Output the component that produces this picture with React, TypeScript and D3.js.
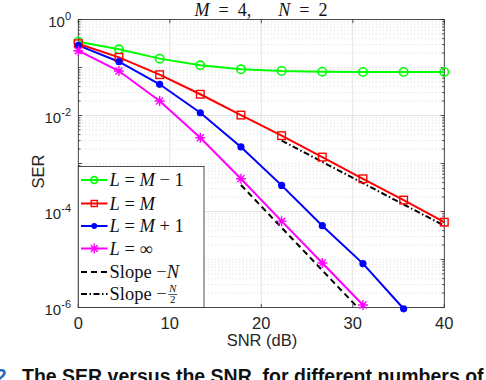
import React, { useEffect, useRef } from 'react';
import * as d3 from 'd3';

// SNR points (dB)
const snrDb = [0, 4.444, 8.889, 13.333, 17.778, 22.222, 26.667, 31.111, 35.556, 40];

// SER curves
const serLm1 = [0.345, 0.239, 0.153, 0.111, 0.0917, 0.0845, 0.0818, 0.0806, 0.0806, 0.0806];
const serLm = [0.313, 0.163, 0.0708, 0.0277, 0.0102, 0.0038, 0.00136, 0.00048, 0.000173, 0.00006];
const serLp1 = [0.29, 0.132, 0.0447, 0.0114, 0.00221, 0.00035, 5.06e-5, 8.2e-6, 9.4e-7];
const serLinf = [0.224, 0.0845, 0.02, 0.00345, 0.00048, 6.3e-5, 8.45e-6, 1.13e-6];

// reference slope lines
const slopeNx = [17.778, 30.54];
const slopeNy = [3.56e-4, 1e-6];
const slopeHalfX = [22.222, 40];
const slopeHalfY = [3.0e-3, 5.06e-5];

const xTicks = [0, 10, 20, 30, 40];
const yTickExps = [0, -2, -4, -6];

const SANS = '"Liberation Sans", Arial, Helvetica, sans-serif';
const SERIF = '"Liberation Serif", "Times New Roman", serif';
const AXIS = '#262626';

export default function App() {
    const svgRef = useRef<SVGSVGElement>(null);

    useEffect(() => {
        document.body.style.margin = '0';
        const svg = d3.select(svgRef.current);
        svg.selectAll('*').remove();

        const left = 78.3, right = 444.3, top = 19.5, bottom = 307.5;
        const x = d3.scaleLinear().domain([0, 40]).range([left, right]);
        const y = d3.scaleLog().domain([1e-6, 1]).range([bottom, top]);

        svg.append('rect').attr('width', 486).attr('height', 380).attr('fill', '#fff');

        // ---- grid
        const grid = svg.append('g');
        for (let e = -6; e < 0; e++) {
            for (let k = 1; k <= 9; k++) {
                if (k === 1 && (-e) % 2 === 0) continue;
                const v = k * Math.pow(10, e);
                grid.append('line')
                    .attr('x1', left).attr('x2', right)
                    .attr('y1', y(v)).attr('y2', y(v))
                    .attr('stroke', '#cfcfcf')
                    .attr('stroke-width', 0.8)
                    .attr('stroke-dasharray', '1,2.5');
            }
        }
        yTickExps.forEach(e => {
            grid.append('line')
                .attr('x1', left).attr('x2', right)
                .attr('y1', y(Math.pow(10, e))).attr('y2', y(Math.pow(10, e)))
                .attr('stroke', '#e3e3e3').attr('stroke-width', 1);
        });
        xTicks.forEach(t => {
            grid.append('line')
                .attr('x1', x(t)).attr('x2', x(t))
                .attr('y1', top).attr('y2', bottom)
                .attr('stroke', '#e3e3e3').attr('stroke-width', 1);
        });

        // ---- ticks (inward, all four sides)
        const ticks = svg.append('g').attr('stroke', AXIS).attr('stroke-width', 0.8);
        xTicks.forEach(t => {
            ticks.append('line').attr('x1', x(t)).attr('x2', x(t)).attr('y1', bottom).attr('y2', bottom - 3.7);
            ticks.append('line').attr('x1', x(t)).attr('x2', x(t)).attr('y1', top).attr('y2', top + 3.7);
        });
        for (let e = -6; e <= 0; e++) {
            for (let k = 1; k <= 9; k++) {
                const v = k * Math.pow(10, e);
                if (v > 1) continue;
                const len = k === 1 ? 3.7 : 2.2;
                ticks.append('line').attr('x1', left).attr('x2', left + len).attr('y1', y(v)).attr('y2', y(v));
                ticks.append('line').attr('x1', right).attr('x2', right - len).attr('y1', y(v)).attr('y2', y(v));
            }
        }

        // ---- box
        svg.append('rect')
            .attr('x', left).attr('y', top)
            .attr('width', right - left).attr('height', bottom - top)
            .attr('fill', 'none').attr('stroke', AXIS).attr('stroke-width', 0.8);

        // ---- tick labels
        xTicks.forEach(t => {
            svg.append('text')
                .attr('x', x(t)).attr('y', 329)
                .attr('text-anchor', 'middle')
                .attr('font-family', SANS).attr('font-size', 16.5)
                .attr('fill', AXIS)
                .text(t);
        });
        yTickExps.forEach(e => {
            const t = svg.append('text')
                .attr('x', 71).attr('y', y(Math.pow(10, e)) + 7)
                .attr('text-anchor', 'end')
                .attr('font-family', SANS).attr('font-size', 15)
                .attr('fill', AXIS);
            t.append('tspan').text('10');
            t.append('tspan').attr('dy', -7).attr('font-size', 11).text(e === 0 ? '0' : String(e));
        });

        // ---- axis labels & title
        svg.append('text')
            .attr('x', 262).attr('y', 346)
            .attr('text-anchor', 'middle')
            .attr('font-family', SANS).attr('font-size', 16.5)
            .attr('fill', AXIS)
            .text('SNR (dB)');
        svg.append('text')
            .attr('transform', `translate(44,${(top + bottom) / 2 + 8}) rotate(-90)`)
            .attr('text-anchor', 'middle')
            .attr('font-family', SANS).attr('font-size', 16.5)
            .attr('fill', AXIS)
            .text('SER');

        const title = svg.append('text')
            .attr('x', 261).attr('y', 16)
            .attr('text-anchor', 'middle')
            .attr('font-family', SERIF).attr('font-size', 18)
            .attr('fill', '#111');
        title.append('tspan').attr('font-style', 'italic').text('M');
        title.append('tspan').text('\u2002=\u20024,\u2003\u2002');
        title.append('tspan').attr('font-style', 'italic').text('N');
        title.append('tspan').text('\u2002=\u20022');

        // ---- curves
        const series = [
            { xs: snrDb, ys: serLm1, color: '#00ff00', marker: 'circle' },
            { xs: snrDb, ys: serLm, color: '#ff0000', marker: 'square' },
            { xs: snrDb, ys: serLp1, color: '#0000ff', marker: 'dot' },
            { xs: snrDb, ys: serLinf, color: '#ff00ff', marker: 'star' }
        ];

        const drawMarker = (g, kind, cx, cy, color, s = 1) => {
            if (kind === 'circle') {
                g.append('circle').attr('cx', cx).attr('cy', cy).attr('r', 4.2 * s)
                    .attr('fill', 'none').attr('stroke', color).attr('stroke-width', 1.6);
            } else if (kind === 'square') {
                g.append('rect').attr('x', cx - 3.8 * s).attr('y', cy - 3.8 * s)
                    .attr('width', 7.6 * s).attr('height', 7.6 * s)
                    .attr('fill', 'none').attr('stroke', color).attr('stroke-width', 1.4);
            } else if (kind === 'dot') {
                g.append('circle').attr('cx', cx).attr('cy', cy).attr('r', 3.6 * s)
                    .attr('fill', color);
            } else {
                const r = 5 * s;
                const p = `M${cx - r},${cy}H${cx + r}M${cx},${cy - r}V${cy + r}` +
                    (s === 1 ? `M${cx - r * 0.7},${cy - r * 0.7}L${cx + r * 0.7},${cy + r * 0.7}M${cx - r * 0.7},${cy + r * 0.7}L${cx + r * 0.7},${cy - r * 0.7}` : '');
                g.append('path').attr('d', p).attr('stroke', color).attr('stroke-width', 1.4).attr('fill', 'none');
            }
        };

        const curves = svg.append('g');
        series.forEach(s => {
            const pts = s.ys.map((v, i) => [x(s.xs[i]), y(v)] as [number, number]);
            curves.append('path')
                .attr('d', d3.line()(pts))
                .attr('fill', 'none').attr('stroke', s.color).attr('stroke-width', 2);
        });

        // slope lines
        const slopeN = slopeNx.map((v, i) => [x(v), y(slopeNy[i])] as [number, number]);
        curves.append('path').attr('d', d3.line()(slopeN))
            .attr('fill', 'none').attr('stroke', '#000').attr('stroke-width', 2)
            .attr('stroke-dasharray', '6,4');
        const slopeH = slopeHalfX.map((v, i) => [x(v), y(slopeHalfY[i])] as [number, number]);
        curves.append('path').attr('d', d3.line()(slopeH))
            .attr('fill', 'none').attr('stroke', '#000').attr('stroke-width', 2)
            .attr('stroke-dasharray', '6,2.5,1.5,2.5');

        series.forEach(s => {
            s.ys.forEach((v, i) => drawMarker(curves, s.marker, x(s.xs[i]), y(v), s.color));
        });

        // ---- legend
        const lg = svg.append('g');
        lg.append('rect')
            .attr('x', left).attr('y', 166.5)
            .attr('width', 204 - left).attr('height', bottom - 166.5)
            .attr('fill', '#fff').attr('stroke', AXIS).attr('stroke-width', 0.8);

        const rowY = [180, 203.5, 226, 248.5, 272, 294];
        const lx1 = 81, lx2 = 107.5, tx = 109.5;
        const addMath = (yy, parts) => {
            const t = lg.append('text').attr('x', tx).attr('y', yy + 6)
                .attr('font-family', SERIF).attr('font-size', 18.5).attr('fill', '#111');
            parts.forEach(([str, it]) => {
                t.append('tspan').attr('font-style', it ? 'italic' : 'normal').text(str);
            });
            return t;
        };
        series.forEach((s, i) => {
            lg.append('line').attr('x1', lx1).attr('x2', lx2).attr('y1', rowY[i]).attr('y2', rowY[i])
                .attr('stroke', s.color).attr('stroke-width', 2);
            drawMarker(lg, s.marker, (lx1 + lx2) / 2, rowY[i], s.color, s.marker === 'star' ? 1 : 0.8);
        });
        addMath(rowY[0], [['L', true], [' = ', false], ['M', true], [' − 1', false]]);
        addMath(rowY[1], [['L', true], [' = ', false], ['M', true]]);
        addMath(rowY[2], [['L', true], [' = ', false], ['M', true], [' + 1', false]]);
        addMath(rowY[3], [['L', true], [' = ∞', false]]);

        lg.append('line').attr('x1', lx1).attr('x2', lx2).attr('y1', rowY[4]).attr('y2', rowY[4])
            .attr('stroke', '#000').attr('stroke-width', 2).attr('stroke-dasharray', '6,4');
        addMath(rowY[4], [['Slope −', false], ['N', true]]);

        lg.append('line').attr('x1', lx1).attr('x2', lx2).attr('y1', rowY[5]).attr('y2', rowY[5])
            .attr('stroke', '#000').attr('stroke-width', 2).attr('stroke-dasharray', '6,2.5,1.5,2.5');
        const slopeTxt = addMath(rowY[5], [['Slope −', false]]);
        const node = slopeTxt.node() as SVGTextElement;
        const fx = tx + (node && node.getComputedTextLength ? node.getComputedTextLength() : 62) + 6;
        lg.append('text').attr('x', fx).attr('y', rowY[5] - 2)
            .attr('text-anchor', 'middle')
            .attr('font-family', SERIF).attr('font-size', 11).attr('font-style', 'italic').attr('fill', '#111')
            .text('N');
        lg.append('line').attr('x1', fx - 4.5).attr('x2', fx + 4.5).attr('y1', rowY[5] + 0.5).attr('y2', rowY[5] + 0.5)
            .attr('stroke', '#111').attr('stroke-width', 0.7);
        lg.append('text').attr('x', fx).attr('y', rowY[5] + 9)
            .attr('text-anchor', 'middle')
            .attr('font-family', SERIF).attr('font-size', 11).attr('fill', '#111')
            .text('2');

        // ---- caption (cut by page edge)
        svg.append('text')
            .attr('x', 12).attr('y', 383)
            .attr('text-anchor', 'end')
            .attr('font-family', SANS).attr('font-size', 19.5).attr('font-weight', 'bold')
            .attr('fill', '#2a6ebb')
            .text('2.');
        svg.append('text')
            .attr('x', 22).attr('y', 383)
            .attr('font-family', SANS).attr('font-size', 19.5).attr('font-weight', 'bold')
            .attr('fill', '#111')
            .text('The SER versus the SNR, for different numbers of quantization');
    }, []);

    return (
        <svg
            ref={svgRef}
            width={486}
            height={380}
            style={{ position: 'absolute', left: 0, top: 0, display: 'block' }}
        />
    );
}
